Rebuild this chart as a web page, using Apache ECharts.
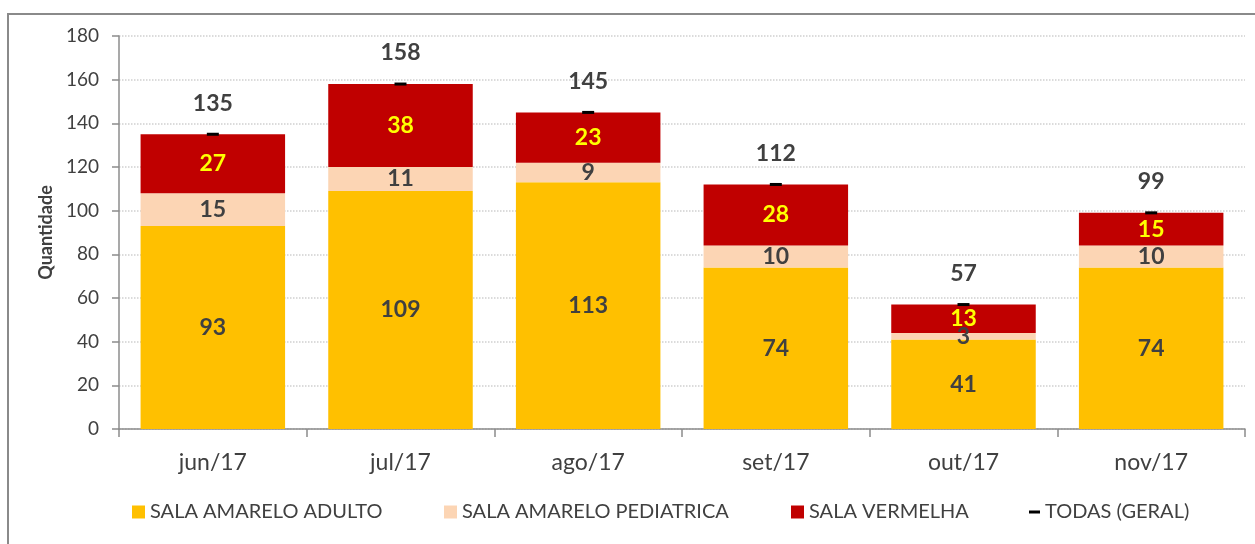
<!DOCTYPE html>
<html>
<head>
<meta charset="utf-8">
<script src="https://cdn.jsdelivr.net/npm/echarts@6/dist/echarts.min.js"></script>
<style>
  html, body { margin: 0; padding: 0; background: #fff; }
  #chart { width: 1255px; height: 544px; }
</style>
</head>
<body>
<div id="chart"></div>
<script>
  var meses = ['jun/17', 'jul/17', 'ago/17', 'set/17', 'out/17', 'nov/17'];
  var adulto = [93, 109, 113, 74, 41, 74];
  var pediatrica = [15, 11, 9, 10, 3, 10];
  var vermelha = [27, 38, 23, 28, 13, 15];
  var todas = [135, 158, 145, 112, 57, 99];
  var yTicks = [0, 20, 40, 60, 80, 100, 120, 140, 160, 180];

  var fonte = 'Lato, "Open Sans", sans-serif';
  var cinza = '#404040';

  var myChart = echarts.init(document.getElementById('chart'));

  // uma legenda por item para acertar as posicoes
  function legenda(nome, left, icon, w, h) {
    return {
      data: [{ name: nome, icon: icon }],
      left: left,
      top: 502,
      padding: 0,
      itemWidth: w,
      itemHeight: h,
      itemGap: 8,
      selectedMode: false,
      textStyle: { fontFamily: fonte, fontSize: 20, color: cinza }
    };
  }

  var option = {
    animation: false,
    textStyle: { fontFamily: fonte },
    graphic: [{
      type: 'rect',
      shape: { x: 8, y: 14, width: 1300, height: 600 },
      style: { fill: 'none', stroke: '#8a8a8a', lineWidth: 2 },
      silent: true
    }],
    grid: { left: 119, right: 10, top: 36, bottom: 115 },
    legend: [
      legenda('SALA AMARELO ADULTO', 132, 'rect', 13, 13),
      legenda('SALA AMARELO PEDIATRICA', 444, 'rect', 13, 13),
      legenda('SALA VERMELHA', 791, 'rect', 13, 13),
      legenda('TODAS (GERAL)', 1029, 'rect', 11, 3)
    ],
    xAxis: {
      type: 'category',
      data: meses,
      axisLine: { lineStyle: { color: '#8c8c8c', width: 1.5 } },
      axisTick: { show: true, length: 8, inside: false, lineStyle: { color: '#8c8c8c', width: 1.5 } },
      axisLabel: { fontSize: 23, color: cinza, margin: 22, fontFamily: fonte }
    },
    yAxis: {
      type: 'value',
      min: yTicks[0],
      max: yTicks[yTicks.length - 1],
      interval: yTicks[1] - yTicks[0],
      name: 'Quantidade',
      nameLocation: 'middle',
      nameGap: 64,
      nameTextStyle: { fontSize: 18, fontWeight: 'bold', color: cinza, fontFamily: fonte },
      axisLine: { show: true, lineStyle: { color: '#8c8c8c', width: 1.5 } },
      axisTick: { show: true, length: 7, lineStyle: { color: '#8c8c8c', width: 1.5 } },
      axisLabel: { fontSize: 19, color: cinza, margin: 20, fontFamily: fonte },
      splitLine: { lineStyle: { color: '#d0d0d0', type: 'dotted', width: 1.5 } }
    },
    series: [
      {
        name: 'SALA AMARELO ADULTO',
        type: 'bar',
        stack: 'total',
        barCategoryGap: '23%',
        itemStyle: { color: '#FFC000' },
        label: { show: true, position: 'inside', fontSize: 23, fontWeight: 'bold', color: cinza },
        data: adulto
      },
      {
        name: 'SALA AMARELO PEDIATRICA',
        type: 'bar',
        stack: 'total',
        itemStyle: { color: '#FCD5B4' },
        label: { show: true, position: 'inside', fontSize: 23, fontWeight: 'bold', color: cinza },
        data: pediatrica
      },
      {
        name: 'SALA VERMELHA',
        type: 'bar',
        stack: 'total',
        itemStyle: { color: '#C00000' },
        label: { show: true, position: 'inside', fontSize: 23, fontWeight: 'bold', color: '#FFFF00' },
        data: vermelha
      },
      {
        name: 'TODAS (GERAL)',
        type: 'line',
        symbol: 'rect',
        symbolSize: [12, 3],
        itemStyle: { color: '#000' },
        lineStyle: { opacity: 0 },
        label: { show: true, position: 'top', distance: 18, fontSize: 23, fontWeight: 'bold', color: cinza },
        z: 5,
        data: todas
      }
    ]
  };
  myChart.setOption(option);
</script>
</body>
</html>
